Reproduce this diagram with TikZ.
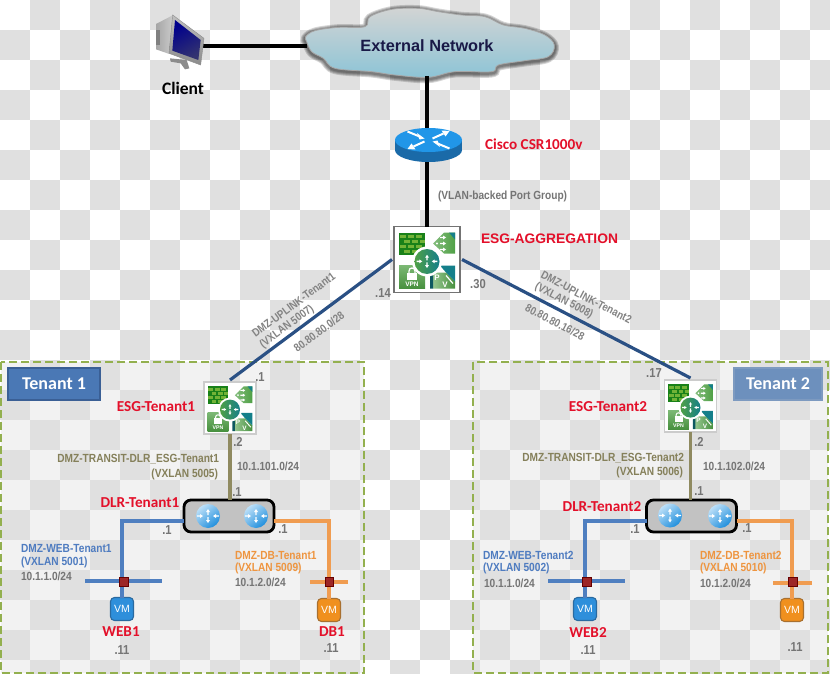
\documentclass[tikz,border=0pt]{standalone}
\usepackage{fontspec}
\setmainfont{Liberation Sans}
\newfontfamily\narfont[FakeStretch=0.86]{Liberation Sans}
\newfontfamily\calfont{Carlito}
\usetikzlibrary{calc}
\definecolor{redlab}{HTML}{E3102A}
\definecolor{greylab}{HTML}{757575}
\definecolor{bluelab}{HTML}{4F7CC0}
\definecolor{orangelab}{HTML}{EE9540}
\definecolor{olivelab}{HTML}{85805A}
\definecolor{uplink}{HTML}{2A5084}
\definecolor{transit}{HTML}{8F8A60}
\definecolor{weblink}{HTML}{4F7FC0}
\definecolor{dblink}{HTML}{F09C50}
\definecolor{dashgreen}{HTML}{93B04F}
\definecolor{checker}{HTML}{E0E0E0}
\definecolor{esggreen}{HTML}{4FA045}
\definecolor{esgteal}{HTML}{147F8A}
\definecolor{vmblue}{HTML}{2E8FDB}
\definecolor{vmblueb}{HTML}{2A6AA0}
\definecolor{vmor}{HTML}{F0901E}
\definecolor{vmorb}{HTML}{A87030}
\definecolor{routertop}{HTML}{2196E8}
\definecolor{routerside}{HTML}{1A6AA8}
\definecolor{cloudtop}{HTML}{D2D4D4}
\definecolor{cloudmid}{HTML}{D4E2E6}
\definecolor{cloudbot}{HTML}{8CC4D6}
\newcommand\fsz[1]{\fontsize{#1}{#1}\selectfont}
\newcommand\arr[3]{\fill[white,shift={(#1,#2)},rotate=#3] (0,-.7)--(3,-.7)--(3,-2)--(6,0)--(3,2)--(3,.7)--(0,.7)--cycle;}
\newcommand\routerc[3]{%
  \begin{scope}[shift={(#1,#2)},scale=#3]
    \shade[left color=routertop!30!white,right color=routertop!95!black,shading angle=40] (0,0) circle (12);
    \arr{0}{-1}{90}\arr{0}{1}{-90}\arr{-11}{0}{0}\arr{11}{0}{180}
  \end{scope}}
% ESG icon: 66 px box centred on the node
\newcommand\esgicon[3]{%
  \begin{scope}[shift={(#1.center)},scale=#2]
    % firewall
    \fill[green!45!black!90] (-28,-27) rectangle (-2,-5);
    \foreach \yy/\off in {-25/0,-20/4,-15/0,-10/4}{
      \foreach \xx in {-27,-19,-11}{
        \fill[esggreen!80!yellow] ({\xx+\off},\yy) rectangle ({min(\xx+\off+6,-2.5)},\yy+3.6);}}
    % load balancer
    \shade[left color=esggreen!70!white,right color=esggreen] (6,-16)--(17,-27)--(28,-27)--(28,-6)--(17,-6)--cycle;
    \fill[esgteal] (22,-27)--(28,-27)--(28,-20)--cycle;
    \foreach \yy in {-22,-16,-10}{\fill[white] (10,\yy) circle (1.2);\arr{13}{\yy}{0}}
    % VPN
    \shade[top color=esggreen!75!white,bottom color=esggreen!90!black] (-28,6) rectangle (-2,29);
    \draw[white,line width=1.3*#2 pt] (-18,14) -- (-18,11.5) .. controls (-18,7.5) and (-12,7.5) .. (-12,11.5) -- (-12,14);
    \fill[white] (-20,13) rectangle (-10,20);
    \node (#3v) at (-15,24.5) [text=white,font=\bfseries\fsz{6.5},scale=#2,inner sep=0pt] {VPN};
    % P V
    \shade[left color=esggreen!60!white,right color=esggreen!90!black] (6,13)--(19,13)--(28,22)--(28,29)--(6,29)--cycle;
    \fill[esgteal] (13,6)--(28,6)--(28,22)--(19,13)--cycle;
    \fill[esgteal!70!black] (3,17) -- (6,13) -- (6,29) -- (3,29) -- cycle;
    \node (#3p) at (10,18) [text=white,font=\bfseries\fsz{8},scale=#2,inner sep=0pt] {P};
    \node (#3q) at (18,25) [text=white,font=\bfseries\fsz{8},scale=#2,inner sep=0pt] {V};
    \draw[white,line width=1.2*#2 pt] (19,16)--(26,24);
    % central router
    \fill[white] (0,2) circle (15);
    \shade[left color=esggreen,right color=esgteal] (0,2) circle (12.5);
    \begin{scope}[scale=.95,shift={(0,2)}]
      \arr{0}{-1}{90}\arr{0}{1}{-90}\arr{-11}{0}{0}\arr{11}{0}{180}
    \end{scope}
  \end{scope}}
\tikzset{
  every node/.style={inner sep=0pt,outer sep=0pt},
  esgbox/.style={draw=#1,line width=1.2pt,fill=white,rectangle},
  holder/.style={rectangle},
  redbold/.style={text=redlab,font=\calfont\bfseries\fsz{15.2}},
  redarial/.style={text=redlab,font=\bfseries\fsz{13.8}},
  greyb/.style={text=greylab,font=\narfont\bfseries\fsz{11.8}},
  dotlab/.style={text=greylab,font=\narfont\bfseries\fsz{13}},
  olive/.style={text=olivelab,font=\narfont\bfseries\fsz{11.8}},
  bluel/.style={text=bluelab,font=\narfont\bfseries\fsz{11.8}},
  orangel/.style={text=orangelab,font=\narfont\bfseries\fsz{11.8}},
  linklab/.style={text=greylab!90,font=\narfont\bfseries\fsz{11.3},align=left},
  dlrbox/.style={draw=black,line width=2.8pt,fill=black!24,rounded corners=7pt,minimum width=90pt,minimum height=32pt},
  vmbox/.style={rounded corners=4pt,line width=1.1pt,minimum width=23pt,minimum height=23pt,text=white,font=\fsz{10.5}},
  redsq/.style={fill=red!55!black!85,draw=red!40!black,line width=.6pt,minimum size=8.5pt},
  tenantbox/.style={draw=dashgreen,line width=1.6pt,dash pattern=on 8pt off 4pt},
  tenantlab/.style={text=white,font=\calfont\bfseries\fsz{18},line width=1.2pt},
  uplinkline/.style={draw=uplink,line width=3.2pt},
  transitline/.style={draw=transit,line width=3.4pt},
  webline/.style={draw=weblink,line width=3.2pt},
  dbline/.style={draw=dblink,line width=3.2pt},
  blackline/.style={draw=black,line width=3.2pt},
}
\begin{document}
\begin{tikzpicture}[x=1pt,y=-1pt]
\useasboundingbox (0,0) rectangle (830,674);
\fill[white] (0,0) rectangle (830,674);
% tenant tinted areas, then the checker pattern
\fill[black!5] (1,362) rectangle (364,673);
\fill[black!5] (473,362) rectangle (828,673);
\begin{scope}
\clip (0,0) rectangle (830,674);
\foreach \i in {0,...,27}{\foreach \j in {0,...,22}{%
  \ifodd\numexpr\i+\j\relax
    \fill[checker] (30*\i,30*\j) rectangle (30*\i+30,30*\j+30);
  \fi}}
\end{scope}
\draw[tenantbox] (1,362) rectangle (364,673);
\draw[tenantbox] (473,362) rectangle (828,673);

% cloud
\begin{scope}[shift={(295,0)},scale=1/3]
  \def\cloudpts{(32,110) (60,92) (130,82) (210,80) (225,50) (290,28) (370,25) (430,35) (500,45) (570,50) (625,75) (690,85) (750,105) (778,135) (760,170) (690,182) (610,195) (590,215) (480,215) (400,232) (300,225) (230,215) (120,205) (85,175) (50,155) (35,125)}
  \foreach \w in {9,7,5,3}{
    \draw[black,opacity=.16,line width=\w pt,shift={(0,4)}] plot[smooth cycle,tension=.6] coordinates {\cloudpts};}
  \shade[top color=cloudtop,middle color=cloudmid,bottom color=cloudbot,draw=black!35,line width=.8pt] plot[smooth cycle,tension=.6] coordinates {\cloudpts};
\end{scope}
\node[holder,minimum width=240pt,minimum height=60pt,text=black!80!blue!90,font=\bfseries\fsz{16.3}] (cloud) at (427,46) {External Network};

% placed holders
\node[holder,minimum width=50pt,minimum height=60pt] (client) at (178,46) {};
\node[holder,minimum width=67pt,minimum height=34pt] (router) at (428.5,145) {};
\node[esgbox=black!55,minimum size=66pt] (esg0) at (427,259.5) {};
\node[esgbox=black!20,minimum size=52pt] (esg1) at (230,408) {};
\node[esgbox=black!20,minimum size=52pt] (esg2) at (690.5,406) {};
\node[dlrbox] (dlr1) at (229,516) {};
\node[dlrbox] (dlr2) at (691.5,516) {};
\node[vmbox,draw=vmblueb,fill=vmblue] (vm1) at (122,609) {VM};
\node[vmbox,draw=vmorb,fill=vmor] (vm2) at (329,610) {VM};
\node[vmbox,draw=vmblueb,fill=vmblue] (vm3) at (585,609) {VM};
\node[vmbox,draw=vmorb,fill=vmor] (vm4) at (792,610) {VM};
\coordinate (w1a) at (85,581);  \coordinate (w1b) at (162,581);
\coordinate (d1a) at (310,582); \coordinate (d1b) at (348,582);
\coordinate (w2a) at (548,581); \coordinate (w2b) at (625,581);
\coordinate (d2a) at (773,583); \coordinate (d2b) at (812,583);

% connectors
\draw[blackline] (client.east) -- (cloud.west);
\draw[blackline] (cloud.south) -- (cloud.south |- router.north);
\draw[blackline] (cloud.south |- router.south) -- (cloud.south |- esg0.north);
\draw[uplinkline] ([xshift=-2pt]esg0.west) -- ([yshift=2pt]esg1.north);
\draw[uplinkline] ([xshift=2pt]esg0.east) -- ([yshift=2pt]esg2.north);
\draw[transitline] (esg1.south) -- (esg1.south |- dlr1.north);
\draw[transitline] (esg2.south) -- (esg2.south |- dlr2.north);
\draw[webline] ([yshift=-5pt]dlr1.west) -| (vm1.north);
\draw[webline] ([yshift=-5pt]dlr2.west) -| (vm3.north);
\draw[dbline] ([yshift=-5pt]dlr1.east) -| (vm2.north);
\draw[dbline] ([yshift=-5pt]dlr2.east) -| (vm4.north);
\draw[webline] (w1a) -- (w1b);
\draw[webline] (w2a) -- (w2b);
\draw[dbline] (d1a) -- (d1b);
\draw[dbline] (d2a) -- (d2b);
\node[redsq] (p1) at (124,582) {};
\node[redsq] (p2) at (329.5,582) {};
\node[redsq] (p3) at (587,582) {};
\node[redsq] (p4) at (793,582) {};

% client monitor
\begin{scope}[shift={(150,10)},scale=1/3]
  \fill[black!45] (60,145)--(110,150)--(118,175)--(105,178)--(92,160)--(62,155)--cycle;
  \shade[left color=black!35,right color=black!20] (18,42)--(70,15)--(58,132)--(18,118)--cycle;
  \fill[black!50] (18,60) rectangle (30,105);
  \shade[top color=black!25,bottom color=black!45,draw=black!45] (68,15)--(162,85)--(152,165)--(57,130)--cycle;
  \shade[left color=blue!55!black,right color=blue!30!black!80,shading angle=30] (75,30)--(152,90)--(145,150)--(67,122)--cycle;
\end{scope}

% Cisco router
\begin{scope}[shift={(428.5,140)}]
  \fill[routerside] (0,10) ellipse (33.5 and 12);
  \fill[routerside] (-33.5,0) rectangle (33.5,10);
  \fill[routertop] (0,0) ellipse (33.5 and 12);
  \draw[white,line width=2pt] (-21,-8.5)--(-9,-3.5) (4,-1.5)--(15,-6.5) (-4,1.5)--(-15,6.5) (21,8.5)--(9,3.5);
  \fill[white] (-4,-1.5)--(-11.5,-7)--(-9,-.5)--cycle;
  \fill[white] (21,-9)--(13,-9.5)--(17,-3.5)--cycle;
  \fill[white] (-21,9)--(-13,9.5)--(-17,3.5)--cycle;
  \fill[white] (4,1.5)--(11.5,7)--(9,.5)--cycle;
\end{scope}

% icons
\esgicon{esg0}{1}{a}
\esgicon{esg1}{.8}{b}
\esgicon{esg2}{.8}{c}
\routerc{208}{516}{1}
\routerc{256}{516}{1}
\routerc{670}{515.5}{1}
\routerc{720}{516}{1}

% tenant labels
\definecolor{tonefill}{HTML}{4A78B5}
\definecolor{tonedraw}{HTML}{3A5F95}
\definecolor{ttwofill}{HTML}{6D90BD}
\definecolor{ttwodraw}{HTML}{7D9AC0}
\node[tenantlab,draw=tonedraw,fill=tonefill,minimum width=92pt,minimum height=32pt] (t1) at (54,384) {Tenant 1};
\node[tenantlab,draw=ttwodraw,fill=ttwofill,minimum width=88pt,minimum height=32pt] (t2) at (778,384) {Tenant 2};

% top labels
\node[font=\calfont\bfseries\fsz{17.5}] (lc) at (183,88) {Client};
\node[redbold,anchor=west] (lcsr) at (485,144) {Cisco CSR1000v};
\node[greyb,anchor=west] (lvl) at (438,196) {(VLAN-backed Port Group)};
\node[redarial,anchor=west] (lag) at (481,239) {ESG-AGGREGATION};
\node[dotlab] (d14) at (383,293) {.14};
\node[dotlab] (d30) at (478,284) {.30};
% uplink labels
\node[linklab,rotate=36.5] (u1) at (298,311) {DMZ-UPLINK-Tenant1\\[1.5pt](VXLAN 5007)};
\node[linklab,rotate=36.5] (u1n) at (319,332) {80.80.80.0/28};
\node[linklab,rotate=-27.5] (u2) at (583,304) {DMZ-UPLINK-Tenant2\\[1.5pt](VXLAN 5008)};
\node[linklab,rotate=-27.5] (u2n) at (555,322) {80.80.80.16/28};
% tenant 1
\node[dotlab] (a1) at (260,377) {.1};
\node[redbold] (a2) at (156,407) {ESG-Tenant1};
\node[dotlab] (a3) at (238,442) {.2};
\node[olive,anchor=east] (a4) at (219,459) {DMZ-TRANSIT-DLR\_ESG-Tenant1};
\node[olive,anchor=east] (a5) at (218,474) {(VXLAN 5005)};
\node[greyb,anchor=west] (a6) at (237,466) {10.1.101.0/24};
\node[dotlab] (a7) at (237,492) {.1};
\node[redbold] (a8) at (140,503) {DLR-Tenant1};
\node[dotlab] (a9) at (167,530) {.1};
\node[dotlab] (a10) at (283,529) {.1};
\node[bluel,anchor=west] (a11) at (21,548) {DMZ-WEB-Tenant1};
\node[bluel,anchor=west] (a12) at (21,562) {(VXLAN 5001)};
\node[greyb,anchor=west] (a13) at (21,576) {10.1.1.0/24};
\node[orangel,anchor=west] (a14) at (235,555) {DMZ-DB-Tenant1};
\node[orangel,anchor=west] (a15) at (235,568) {(VXLAN 5009)};
\node[greyb,anchor=west] (a16) at (235,582) {10.1.2.0/24};
\node[redbold] (a17) at (121,632) {WEB1};
\node[dotlab] (a18) at (122,650) {.11};
\node[redbold] (a19) at (332,632) {DB1};
\node[dotlab] (a20) at (331,648) {.11};
% tenant 2
\node[dotlab] (b1) at (654,373) {.17};
\node[redbold] (b2) at (608,407) {ESG-Tenant2};
\node[dotlab] (b3) at (699,442) {.2};
\node[olive,anchor=east] (b4) at (684,458) {DMZ-TRANSIT-DLR\_ESG-Tenant2};
\node[olive,anchor=east] (b5) at (683,472) {(VXLAN 5006)};
\node[greyb,anchor=west] (b6) at (703,466) {10.1.102.0/24};
\node[dotlab] (b7) at (699,491) {.1};
\node[redbold] (b8) at (602,507) {DLR-Tenant2};
\node[dotlab] (b9) at (635,529) {.1};
\node[dotlab] (b10) at (747,528) {.1};
\node[bluel,anchor=west] (b11) at (483,555) {DMZ-WEB-Tenant2};
\node[bluel,anchor=west] (b12) at (483,568) {(VXLAN 5002)};
\node[greyb,anchor=west] (b13) at (484,583) {10.1.1.0/24};
\node[orangel,anchor=west] (b14) at (700,555) {DMZ-DB-Tenant2};
\node[orangel,anchor=west] (b15) at (700,568) {(VXLAN 5010)};
\node[greyb,anchor=west] (b16) at (700,583) {10.1.2.0/24};
\node[redbold] (b17) at (588,633) {WEB2};
\node[dotlab] (b18) at (588,650) {.11};
\node[dotlab] (b19) at (795,647) {.11};
\end{tikzpicture}
\end{document}
